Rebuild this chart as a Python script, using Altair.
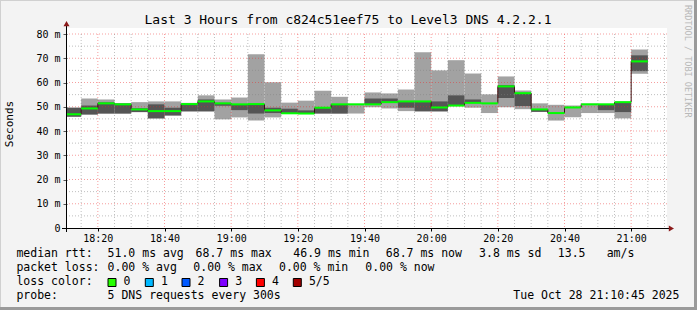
import altair as alt
import pandas as pd

DAY = "2025-10-28"
MONO = "DejaVu Sans Mono"

# ---- data (ms) ----
times = ["18:10", "18:15", "18:20", "18:25", "18:30", "18:35", "18:40", "18:45", "18:50", "18:55",
         "19:00", "19:05", "19:10", "19:15", "19:20", "19:25", "19:30", "19:35", "19:40", "19:45",
         "19:50", "19:55", "20:00", "20:05", "20:10", "20:15", "20:20", "20:25", "20:30", "20:35",
         "20:40", "20:45", "20:50", "20:55", "21:00"]
rtt_min = [45.9, 46.8, 47.2, 47.2, 47.8, 45.2, 46.4, 48.1, 48.1, 44.8,
           45.6, 44.3, 45.6, 47.0, 47.0, 47.2, 47.2, 47.2, 49.8, 49.3,
           48.2, 48.1, 48.1, 50.2, 49.6, 47.4, 49.8, 49.0, 47.9, 44.3,
           45.7, 47.4, 47.4, 45.2, 63.6]
dark_lo = [45.9, 46.8, 47.2, 47.2, 47.8, 45.2, 46.4, 48.1, 48.1, 50.4,
           48.6, 47.2, 47.4, 47.0, 47.0, 47.2, 47.2, 51.0, 51.0, 51.9,
           49.6, 48.1, 48.1, 50.5, 51.6, 51.4, 53.6, 50.3, 47.9, 47.0,
           49.7, 51.0, 48.6, 47.8, 64.7]
median = [46.9, 49.3, 51.4, 51.0, 48.9, 48.2, 48.2, 51.1, 52.2, 51.4,
          51.0, 51.1, 48.5, 47.3, 47.2, 49.6, 51.0, 51.0, 51.0, 51.9,
          52.2, 52.2, 49.7, 50.5, 51.6, 51.4, 58.4, 55.6, 48.9, 47.4,
          49.7, 51.0, 51.0, 51.9, 68.7]
dark_hi = [49.6, 50.5, 51.8, 51.3, 49.4, 51.0, 49.6, 51.2, 53.0, 51.6,
           51.0, 51.1, 49.6, 49.2, 48.5, 49.6, 51.0, 51.0, 53.4, 53.4,
           52.2, 52.2, 52.2, 54.7, 53.0, 51.4, 58.9, 55.6, 48.9, 47.4,
           49.7, 51.0, 51.0, 51.9, 71.2]
rtt_max = [49.6, 53.4, 53.0, 51.5, 51.9, 52.2, 52.2, 51.6, 54.7, 53.0,
           53.8, 71.7, 60.1, 51.7, 52.5, 56.6, 54.1, 51.2, 55.9, 55.5,
           57.1, 72.5, 65.0, 69.2, 63.7, 55.1, 62.5, 56.7, 51.4, 50.8,
           50.5, 51.3, 51.2, 52.1, 73.6]

y_ticks = [0, 10, 20, 30, 40, 50, 60, 70, 80]
major_ms = [10, 20, 30, 40, 50, 60, 70, 80]
minor_ms = [5, 15, 25, 35, 45, 55, 65, 75]
major_times = ["18:20", "18:40", "19:00", "19:20", "19:40", "20:00", "20:20", "20:40", "21:00"]
minor_times = ["18:15", "18:25", "18:30", "18:35", "18:45", "18:50", "18:55", "19:05", "19:10",
               "19:15", "19:25", "19:30", "19:35", "19:45", "19:50", "19:55", "20:05", "20:10",
               "20:15", "20:25", "20:30", "20:35", "20:45", "20:50", "20:55", "21:05", "21:10"]
loss_labels = ["0", "1", "2", "3", "4", "5/5"]
loss_colors = ["#26ff00", "#00b8ff", "#0059ff", "#7e00ff", "#ff0000", "#a10000"]


def ts(hhmm):
    return pd.Timestamp(f"{DAY}T{hhmm}:00")


def dt(h, m, s=0):
    return alt.DateTime(year=2025, month=10, date=28, hours=h, minutes=m, seconds=s)


df = pd.DataFrame({"start": [ts(t) for t in times], "min": rtt_min, "dlo": dark_lo,
                   "med": median, "dhi": dark_hi, "max": rtt_max})
df["end"] = df["start"] + pd.Timedelta(minutes=5)

conn = pd.DataFrame({"t": [ts(t) for t in times[1:]], "a": median[:-1], "b": median[1:]})
gx_major = pd.DataFrame({"t": [ts(t) for t in major_times]})
gx_minor = pd.DataFrame({"t": [ts(t) for t in minor_times]})
gy_major = pd.DataFrame({"v": major_ms})
gy_minor = pd.DataFrame({"v": minor_ms})

W, H = 600, 200
LEFT, TOP = 67, 28
YMAX = H / 2.425

xscale = alt.Scale(domain=[dt(18, 10, 45), dt(21, 10, 45)])
yscale = alt.Scale(domain=[0, YMAX], nice=False, zero=False)

xaxis = alt.Axis(values=[dt(int(t[:2]), int(t[3:])) for t in major_times], format="%H:%M",
                 domain=False, grid=False, ticks=True, tickSize=3, tickColor="#000",
                 labelFont=MONO, labelFontSize=10, labelColor="#000", labelPadding=2,
                 title=None, labelFlush=False, labelOverlap=False)
NB = "\u00a0"
yaxis = alt.Axis(values=y_ticks,
                 labelExpr=f"datum.value == 0 ? '0{NB}{NB}' : datum.value + '{NB}m'",
                 domain=False, grid=False, tickSize=4, tickColor="#555",
                 labelFont=MONO, labelFontSize=10, labelColor="#000", labelPadding=3,
                 title=None, labelFlush=False, labelOverlap=False, labelBound=False)


def X(f):
    return alt.X(f, scale=xscale, axis=xaxis)


def Y(f):
    return alt.Y(f, scale=yscale, axis=yaxis)


light = alt.Chart(df).mark_rect(color="#a2a2a2", clip=True).encode(
    x=X("start:T"), x2="end:T", y=Y("min:Q"), y2="max:Q")
dark = alt.Chart(df).mark_rect(color="#555555", clip=True).encode(
    x=X("start:T"), x2="end:T", y=Y("dlo:Q"), y2="dhi:Q")

dash = [1, 2]
GRAY = "rgba(130,130,130,0.5)"
RED = "rgba(235,40,40,0.45)"
grid_minor_y = alt.Chart(gy_minor).mark_rule(color=GRAY, strokeDash=dash).encode(y=Y("v:Q"))
grid_major_y = alt.Chart(gy_major).mark_rule(color=RED, strokeDash=dash).encode(y=Y("v:Q"))
grid_minor_x = alt.Chart(gx_minor).mark_rule(color=GRAY, strokeDash=dash).transform_calculate(
    lo="0", hi="80").encode(x=X("t:T"), y=Y("hi:Q"), y2="lo:Q")
grid_major_x = alt.Chart(gx_major).mark_rule(color=RED, strokeDash=dash).transform_calculate(
    lo="0", hi="80").encode(x=X("t:T"), y=Y("hi:Q"), y2="lo:Q")

connectors = alt.Chart(conn).mark_rule(color="#3a1010", strokeWidth=1).encode(
    x=X("t:T"), y=Y("a:Q"), y2="b:Q")
med_line = alt.Chart(df).mark_rule(color="#00ff00", strokeWidth=2, clip=True).encode(
    x=X("start:T"), x2="end:T", y=Y("med:Q"))

one = alt.Data(values=[{}])


def text(s, px, py, size=11.5, align="left", baseline="middle", angle=0, color="#000"):
    return alt.Chart(one).mark_text(font=MONO, fontSize=size, align=align, baseline=baseline,
                                    angle=angle, color=color).encode(
        x=alt.value(px - LEFT), y=alt.value(py - TOP), text=alt.value(s))


def rule(x1, y1, x2, y2, color, width=1):
    return alt.Chart(one).mark_rule(color=color, strokeWidth=width).encode(
        x=alt.value(x1 - LEFT), x2=alt.value(x2 - LEFT), y=alt.value(y1 - TOP), y2=alt.value(y2 - TOP))


layers = [light, dark, grid_minor_y, grid_major_y, grid_minor_x, grid_major_x, connectors, med_line]

# axes lines and arrows
layers.append(rule(66.5, 25, 66.5, 232, "#000"))
layers.append(rule(62, 228.5, 670, 228.5, "#000"))
layers.append(alt.Chart(one).mark_point(shape="triangle-up", filled=True, size=36, opacity=1,
                                        color="#8b1a1a").encode(
    x=alt.value(66.5 - LEFT), y=alt.value(23.6 - TOP)))
layers.append(alt.Chart(one).mark_point(shape="triangle-right", filled=True, size=36, opacity=1,
                                        color="#8b1a1a").encode(
    x=alt.value(671.4 - LEFT), y=alt.value(228.5 - TOP)))

# frame
layers.append(rule(0, 0.5, 697, 0.5, "#d0d0d0"))
layers.append(rule(0.5, 0, 0.5, 310, "#d0d0d0"))
layers.append(rule(695.5, 0, 695.5, 310, "#9a9a9a", 3))
layers.append(rule(0, 308.5, 697, 308.5, "#9a9a9a", 3))

# titles
layers.append(text("Last 3 Hours from c824c51eef75 to Level3 DNS 4.2.2.1", 348, 20, size=13,
                   align="center"))
layers.append(text("Seconds", 10, 124, size=11, align="center", angle=270))
layers.append(text("RRDTOOL / TOBI OETIKER", 688, 5, size=8.5, angle=90, color="#b8b8b8"))

# legend
line1 = [("median rtt:", 16.4), ("51.0 ms avg", 107.6), ("68.7 ms max", 195.6),
         ("46.9 ms min", 293.3), ("68.7 ms now", 385.8), ("3.8 ms sd", 479.1),
         ("13.5", 557.8), ("am/s", 606.7)]
line2 = [("packet loss:", 16.4), ("0.00 % avg", 107.6), ("0.00 % max", 193.3),
         ("0.00 % min", 279.0), ("0.00 % now", 365.3)]
line4 = [("probe:", 16.4), ("5 DNS requests every 300s", 107.6),
         ("Tue Oct 28 21:10:45 2025", 513.3)]
for s, px in line1:
    layers.append(text(s, px, 254.3))
for s, px in line2:
    layers.append(text(s, px, 268.3))
layers.append(text("loss color:", 16.4, 282.3))
box_x = [108, 145.3, 182, 219.6, 256.4, 293.3]
for lab, col, bx in zip(loss_labels, loss_colors, box_x):
    layers.append(alt.Chart(one).mark_rect(fill=col, stroke="#000", strokeWidth=1).encode(
        x=alt.value(bx - LEFT), x2=alt.value(bx + 8 - LEFT),
        y=alt.value(278.5 - TOP), y2=alt.value(286.5 - TOP)))
    layers.append(text(lab, bx + 15.6, 282.3))
for s, px in line4:
    layers.append(text(s, px, 296.0))

chart = alt.layer(*layers).properties(
    width=W, height=H,
    padding={"left": LEFT, "top": TOP, "right": 697 - LEFT - W, "bottom": 310 - TOP - H},
    autosize=alt.AutoSizeParams(type="none"),
    background="#f3f3f3",
).configure_view(fill="white", stroke=None).configure_axis(labelOverlap=False)

chart.save("out.html", embed_options={"renderer": "svg", "actions": False})
